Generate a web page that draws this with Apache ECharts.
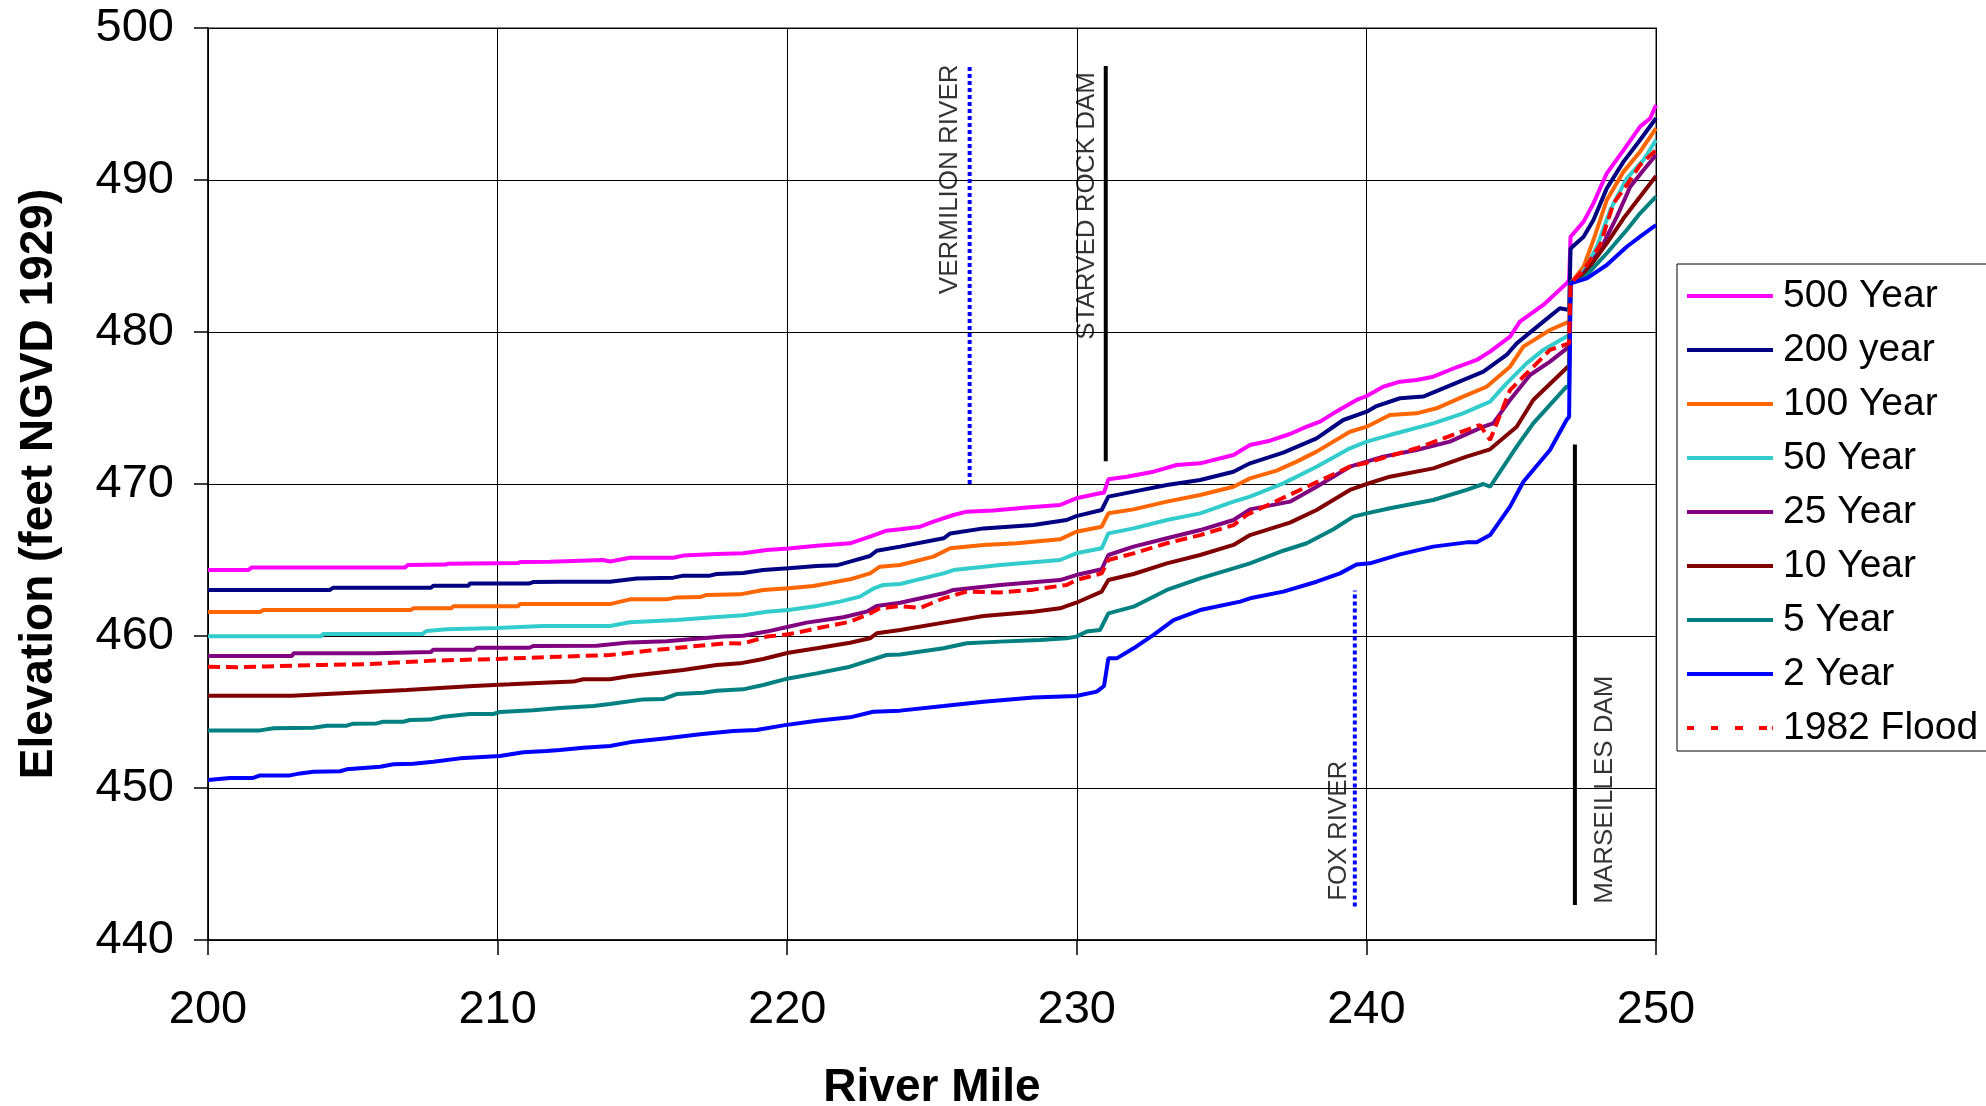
<!DOCTYPE html>
<html><head><meta charset="utf-8">
<script src="https://cdn.jsdelivr.net/npm/echarts@6/dist/echarts.min.js"></script>
<style>html,body{margin:0;padding:0;background:#fff}#c{width:1986px;height:1106px}</style>
</head><body><div id="c"></div>
<script>
const seriesNames = ['500 Year','200 year','100 Year','50 Year','25 Year','10 Year','5 Year','2 Year','1982 Flood'];
const seriesColors = ['#FF00FF','#000080','#FF6600','#33CCCC','#800080','#800000','#008080','#0000FF','#FF0000'];

const y500 = [[200,464.34],[201.4,464.34],[201.5,464.5],[206.8,464.5],[206.9,464.67],[208.2,464.7],[208.3,464.76],[210.7,464.8],[210.8,464.87],[211.81,464.89],[213.65,465.0],[213.88,464.9],[214.57,465.15],[216.07,465.15],[216.41,465.29],[217.56,465.39],[218.48,465.44],[219.29,465.66],[220.04,465.75],[221.02,465.94],[222.17,466.1],[222.86,466.54],[223.43,466.93],[223.9,467.02],[224.59,467.19],[225.05,467.52],[225.74,467.96],[226.2,468.18],[227.12,468.25],[228.27,468.46],[229.42,468.62],[229.98,469.06],[230.8,469.39],[230.94,469.43],[231.09,470.31],[231.73,470.48],[232.65,470.81],[233.45,471.25],[234.26,471.36],[235.41,471.91],[235.98,472.57],[236.67,472.85],[237.36,473.29],[237.94,473.77],[238.4,474.1],[238.86,474.65],[239.66,475.53],[240.01,475.79],[240.58,476.4],[241.16,476.73],[241.73,476.84],[242.31,477.06],[243.11,477.68],[243.81,478.16],[244.27,478.71],[244.96,479.69],[245.3,480.68],[246.11,481.78],[246.91,483.2],[247.0,483.42],[247.05,486.27],[247.5,487.26],[247.84,488.46],[248.3,490.44],[248.88,491.97],[249.45,493.51],[249.8,494.06],[250,494.93]];
const y200 = [[200,463.03],[204.2,463.03],[204.33,463.18],[207.7,463.18],[207.78,463.31],[209.0,463.31],[209.04,463.46],[211.1,463.46],[211.23,463.55],[212.15,463.57],[213.88,463.57],[214.8,463.79],[216.07,463.84],[216.41,463.97],[217.33,463.97],[217.56,464.08],[218.48,464.14],[219.17,464.34],[220.04,464.45],[221.02,464.61],[221.71,464.65],[222.17,464.89],[222.86,465.26],[223.09,465.61],[223.9,465.88],[225.4,466.43],[225.63,466.75],[226.78,467.08],[228.5,467.3],[229.65,467.63],[229.98,467.89],[230.86,468.29],[231.09,469.17],[231.96,469.5],[233.11,469.93],[234.26,470.26],[235.41,470.81],[235.98,471.36],[237.13,472.06],[238.28,473.0],[239.2,474.21],[240.01,474.76],[240.35,475.13],[241.16,475.64],[241.96,475.75],[242.65,476.29],[244.04,477.39],[244.84,478.49],[245.19,479.25],[246.11,480.68],[246.68,481.56],[247.0,481.45],[247.05,485.5],[247.5,486.27],[247.84,487.37],[248.3,489.45],[248.88,491.21],[249.45,492.63],[250,494.06]];
const y100 = [[200,461.58],[201.8,461.58],[201.91,461.71],[207.0,461.71],[207.09,461.82],[208.4,461.82],[208.47,461.95],[210.7,461.95],[210.77,462.1],[213.88,462.1],[214.57,462.41],[215.84,462.41],[216.18,462.54],[216.99,462.56],[217.22,462.7],[218.37,462.74],[219.17,463.03],[220.04,463.14],[220.9,463.29],[221.59,463.53],[222.17,463.73],[222.86,464.12],[223.2,464.56],[223.9,464.67],[225.05,465.22],[225.63,465.77],[226.78,465.99],[227.93,466.1],[229.42,466.36],[229.98,466.86],[230.86,467.19],[231.09,468.07],[231.96,468.33],[233.11,468.84],[234.26,469.28],[235.41,469.82],[235.98,470.37],[236.9,470.88],[237.59,471.47],[238.28,472.13],[239.43,473.44],[240.01,473.77],[240.81,474.54],[241.73,474.65],[242.42,474.98],[243.34,475.75],[244.15,476.4],[244.96,477.72],[245.42,479.04],[246.34,480.13],[247.0,480.68],[247.05,483.2],[247.5,484.3],[247.84,486.05],[248.3,488.68],[248.88,490.55],[249.45,491.86],[250,493.4]];
const y50 = [[200,459.98],[203.9,459.98],[203.98,460.13],[207.4,460.13],[207.55,460.33],[208.24,460.44],[209.97,460.53],[211.58,460.66],[213.88,460.66],[214.57,460.9],[216.18,461.05],[217.33,461.21],[218.48,461.36],[219.29,461.6],[220.04,461.71],[221.02,461.97],[221.82,462.26],[222.51,462.59],[222.97,463.11],[223.32,463.36],[223.9,463.42],[225.4,464.12],[225.74,464.34],[227.35,464.67],[229.42,465.0],[229.98,465.44],[230.86,465.77],[231.09,466.75],[231.96,467.08],[233.11,467.63],[234.26,468.07],[235.41,468.84],[235.98,469.17],[237.13,470.04],[238.28,471.14],[239.43,472.35],[240.01,472.79],[240.81,473.22],[242.31,473.99],[243.34,474.65],[244.27,475.42],[244.84,476.62],[245.53,477.94],[246.11,478.82],[247.0,479.8],[247.05,483.2],[247.5,483.97],[247.96,485.61],[248.42,488.03],[248.99,490.11],[249.57,491.32],[250,492.63]];
const y25 = [[200,458.68],[202.9,458.68],[202.95,458.86],[205.8,458.86],[205.82,458.95],[207.7,458.95],[207.78,459.1],[209.2,459.1],[209.28,459.23],[211.1,459.23],[211.23,459.34],[213.42,459.36],[214.57,459.58],[215.84,459.65],[216.64,459.78],[217.79,459.96],[218.48,460.02],[219.29,460.29],[220.04,460.61],[220.67,460.88],[221.94,461.23],[222.74,461.6],[223.09,461.97],[223.9,462.19],[225.4,462.81],[225.74,463.03],[227.35,463.36],[229.42,463.68],[229.98,464.01],[230.86,464.39],[231.09,465.33],[231.96,465.88],[233.11,466.43],[234.26,466.97],[235.41,467.63],[235.98,468.33],[237.36,468.84],[238.28,469.82],[239.43,471.14],[240.01,471.47],[240.58,471.8],[241.73,472.24],[242.88,472.79],[244.04,473.77],[244.38,473.99],[244.96,475.53],[245.65,477.17],[246.34,478.05],[247.0,479.04],[247.05,483.2],[247.5,483.86],[248.07,485.39],[248.65,487.59],[249.11,489.56],[249.57,490.66],[250,491.64]];
const y10 = [[200,456.07],[202.9,456.07],[202.95,456.2],[205.48,456.32],[206.86,456.45],[208.01,456.58],[209.16,456.71],[210.43,456.82],[211.58,456.93],[212.62,457.0],[212.96,457.15],[213.88,457.15],[214.57,457.37],[216.41,457.76],[217.56,458.09],[218.37,458.2],[219.17,458.49],[220.04,458.9],[221.02,459.19],[222.17,459.56],[222.86,459.85],[223.09,460.18],[223.9,460.39],[225.4,460.88],[226.78,461.32],[228.5,461.6],[229.42,461.82],[229.98,462.19],[230.86,462.92],[231.09,463.68],[231.96,464.08],[233.11,464.78],[234.26,465.33],[235.41,465.99],[235.98,466.64],[237.36,467.46],[238.28,468.29],[239.43,469.61],[240.01,470.0],[240.81,470.48],[242.31,471.03],[243.46,471.8],[244.27,472.28],[245.19,473.77],[245.76,475.53],[247.0,477.8],[247.05,483.2],[247.5,483.75],[248.3,485.83],[248.88,487.48],[249.45,488.9],[250,490.26]];
const y5 = [[200,453.79],[201.8,453.79],[202.26,453.93],[203.64,453.97],[204.1,454.1],[204.79,454.1],[205.02,454.23],[205.82,454.25],[206.05,454.36],[206.74,454.36],[206.97,454.47],[207.66,454.5],[208.12,454.69],[209.04,454.87],[209.85,454.87],[210.08,455.0],[211.23,455.11],[212.15,455.26],[213.31,455.39],[213.88,455.53],[215.03,455.83],[215.72,455.85],[216.18,456.18],[217.1,456.27],[217.56,456.4],[218.48,456.49],[219.17,456.78],[220.04,457.21],[221.02,457.54],[222.17,457.98],[223.43,458.75],[223.9,458.78],[225.4,459.19],[226.2,459.52],[227.35,459.63],[228.73,459.74],[229.65,459.85],[229.98,459.96],[230.34,460.29],[230.8,460.39],[231.09,461.49],[231.96,461.93],[233.11,463.03],[234.26,463.79],[235.41,464.45],[235.98,464.78],[237.13,465.61],[237.94,466.1],[238.86,467.02],[239.55,467.85],[240.01,468.07],[240.81,468.4],[242.31,468.95],[243.46,469.61],[244.04,470.0],[244.27,469.82],[245.19,472.46],[245.76,473.99],[246.91,476.4],[247.0,476.4],[247.05,483.2],[247.5,483.53],[248.3,485.18],[248.99,486.71],[249.45,487.81],[250,488.9]];
const y2 = [[200,450.53],[200.76,450.66],[201.56,450.66],[201.8,450.83],[202.83,450.83],[203.18,450.96],[203.64,451.07],[204.56,451.1],[204.79,451.23],[205.94,451.4],[206.4,451.56],[207.09,451.6],[207.78,451.73],[208.7,451.95],[209.62,452.06],[210.08,452.1],[210.89,452.35],[211.69,452.43],[212.15,452.5],[212.96,452.65],[213.88,452.76],[214.69,453.05],[215.84,453.27],[216.99,453.53],[218.14,453.75],[218.94,453.82],[219.87,454.12],[221.02,454.43],[222.17,454.65],[222.97,455.02],[223.9,455.09],[225.4,455.39],[226.78,455.68],[228.5,455.96],[229.98,456.05],[230.69,456.34],[230.94,456.71],[231.09,458.53],[231.38,458.53],[231.96,459.19],[232.65,460.07],[233.34,461.05],[234.26,461.71],[235.64,462.26],[235.98,462.48],[237.13,462.92],[238.28,463.57],[239.09,464.12],[239.66,464.71],[240.12,464.78],[241.16,465.37],[242.31,465.88],[243.46,466.16],[243.81,466.16],[244.27,466.64],[244.96,468.51],[245.42,470.15],[246.34,472.24],[246.91,474.21],[247.0,474.43],[247.05,483.2],[247.61,483.53],[248.3,484.41],[248.99,485.61],[249.45,486.27],[250,487.04]];
const y1982 = [[200,457.98],[201,457.95],[202,458.0],[203,458.05],[204,458.1],[205.5,458.14],[206.5,458.25],[207.78,458.38],[210,458.49],[212.15,458.64],[213.88,458.75],[215.26,459.04],[216.64,459.3],[217.91,459.52],[218.48,459.5],[219.29,459.96],[220.04,460.11],[221.02,460.5],[222.17,460.94],[222.86,461.49],[223.2,461.82],[223.9,461.97],[224.59,461.85],[225.4,462.48],[226.2,462.92],[227.35,462.87],[228.5,463.05],[229.65,463.36],[229.98,463.68],[230.86,464.12],[231.09,465.0],[231.96,465.44],[233.11,466.1],[234.26,466.64],[235.41,467.3],[235.87,467.96],[235.98,468.07],[239.43,471.14],[240.01,471.4],[241.73,472.35],[243.92,473.88],[244.27,472.9],[244.96,476.18],[245.42,477.06],[246.34,478.82],[247.0,479.25],[247.05,483.2],[247.5,484.08],[248.07,485.72],[248.53,488.46],[248.99,489.67],[249.45,490.99],[250,491.97]];

const seriesData = [y500,y200,y100,y50,y25,y10,y5,y2,y1982];

// annotation lines (river mile, elevation)
const annoVermilion = [[226.3,470.0],[226.3,497.5]];
const annoStarved = [[231.0,471.5],[231.0,497.5]];
const annoFox = [[239.6,442.2],[239.6,463.0]];
const annoMarseilles = [[247.2,442.3],[247.2,472.6]];
const annoLabelNames = ['VERMILION RIVER','STARVED ROCK DAM','FOX RIVER','MARSEILLES DAM'];
const annoLabelPos = [[225.62,497.6],[230.35,497.1],[239.05,451.8],[248.24,457.4]];

const FONT = 'Liberation Sans, Arial, sans-serif';
const ICON_SOLID = 'path://M0,0H86V4H0Z';
const ICON_DASH = 'path://M0,0H7V4H0Z M24,0H31V4H24Z M48,0H56V4H48Z M72,0H80V4H72Z M85,0H86V4H85Z';
const chart = echarts.init(document.getElementById('c'));

const series = seriesNames.map((n,i)=>({
  name:n, type:'line', data:seriesData[i], symbol:'none', z:3,
  lineStyle:{color:seriesColors[i], width:4, type: n==='1982 Flood' ? [12,6] : 'solid'},
  itemStyle:{color:seriesColors[i]}
}));
function annoLine(d, color, dotted){
  return {type:'line', data:d, symbol:'none', silent:true, z:2,
    lineStyle:{color:color, width:4, type: dotted ? [4,3] : 'solid'}};
}
series.push(annoLine(annoVermilion,'#0000FF',true));
series.push(annoLine(annoStarved,'#000000',false));
series.push(annoLine(annoFox,'#0000FF',true));
series.push(annoLine(annoMarseilles,'#000000',false));
series.push({type:'scatter', symbolSize:0, silent:true, z:4,
  data: annoLabelNames.map((n,i)=>({name:n, value:annoLabelPos[i]})),
  label:{show:true, formatter:'{b}', rotate:90, position:[0,0], align:'right', verticalAlign:'middle',
    fontFamily:FONT, fontSize:26, color:'#000'}
});

chart.setOption({
  animation:false,
  backgroundColor:'#fff',
  grid:{left:208, top:28, right:330, bottom:166, show:true, borderColor:'#888', borderWidth:2,
    backgroundColor:'transparent', containLabel:false, outerBoundsMode:'none'},
  legend:{
    data:seriesNames.map((n,i)=>({name:n, icon: n==='1982 Flood' ? ICON_DASH : ICON_SOLID,
      itemStyle:{color:seriesColors[i], borderWidth:0}})),
    orient:'vertical', left:1677, top:264,
    padding:[12,60,3,10], itemGap:14, itemWidth:86, itemHeight:4,
    borderColor:'#000', borderWidth:1, backgroundColor:'#fff',
    textStyle:{fontFamily:FONT, fontSize:39, color:'#000', lineHeight:40, padding:[0,0,0,5]}
  },
  xAxis:{
    type:'value', min:200, max:250, interval:10,
    name:'River Mile', nameLocation:'middle', nameGap:125,
    nameTextStyle:{fontFamily:FONT, fontSize:46, fontWeight:'bold', color:'#000'},
    axisLine:{lineStyle:{color:'#000', width:1.5}},
    axisTick:{show:true, inside:false, length:15, lineStyle:{color:'#000', width:1.5}},
    axisLabel:{fontFamily:FONT, fontSize:47, color:'#000', margin:47},
    splitLine:{show:true, lineStyle:{color:'#000', width:1}}
  },
  yAxis:{
    type:'value', min:440, max:500, interval:10,
    name:'Elevation (feet NGVD 1929)', nameLocation:'middle', nameGap:146,
    nameTextStyle:{fontFamily:FONT, fontSize:46, fontWeight:'bold', color:'#000'},
    axisLine:{show:true, lineStyle:{color:'#000', width:1.5}},
    axisTick:{show:true, inside:false, length:14, lineStyle:{color:'#000', width:1.5}},
    axisLabel:{fontFamily:FONT, fontSize:47, color:'#000', margin:34},
    splitLine:{show:true, lineStyle:{color:'#000', width:1}}
  },
  series:series
});
</script></body></html>
